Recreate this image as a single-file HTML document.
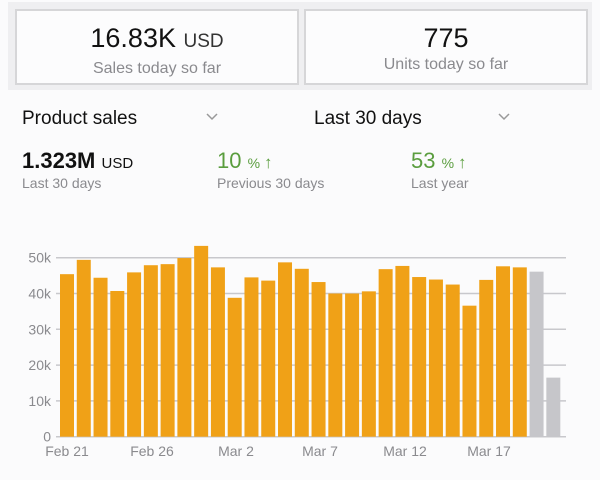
<!DOCTYPE html>
<html><head><style>
body{margin:0;width:600px;height:480px;background:#fbfbfc;font-family:"Liberation Sans",sans-serif;position:relative;overflow:hidden}
.band{position:absolute;left:8px;top:2px;width:584px;height:88px;background:#efeff1}
.box{position:absolute;top:9px;height:72px;background:#fcfcfd;border:2px solid #d6d6d8;text-align:center}
.big{font-size:27px;color:#111;margin-top:12px;line-height:30px}
.big small{font-size:19px;color:#333}
.sub{font-size:16px;color:#8a8a8e;margin-top:3px}
.t{position:absolute;font-size:19px;color:#111}
.v{position:absolute;font-size:22px;font-weight:bold;color:#111}
.g{color:#5a9d3e;font-weight:normal}
.ar{font-size:17px}
.l{position:absolute;font-size:14px;color:#8a8a8e}
</style></head><body>
<div class="band"></div>
<div class="box" style="left:15px;width:280px"><div class="big">16.83K <small>USD</small></div><div class="sub">Sales today so far</div></div>
<div class="box" style="left:304px;width:280px"><div class="big">775</div><div class="sub">Units today so far</div></div>
<div class="t" style="left:22px;top:108px">Product sales</div>
<div class="t" style="left:314px;top:108px">Last 30 days</div>
<div class="v" style="left:22px;top:148px">1.323M <span style="font-size:15px;font-weight:normal">USD</span></div>
<div class="v g" style="left:217px;top:148px">10 <span style="font-size:14px">% <span class="ar">&#8593;</span></span></div>
<div class="v g" style="left:411px;top:148px">53 <span style="font-size:14px">% <span class="ar">&#8593;</span></span></div>
<div class="l" style="left:22px;top:175px">Last 30 days</div>
<div class="l" style="left:217px;top:175px">Previous 30 days</div>
<div class="l" style="left:411px;top:175px">Last year</div>
<svg width="600" height="480" style="position:absolute;left:0;top:0" font-family="Liberation Sans, sans-serif">
<polyline points="207,114 212,119 217,114" fill="none" stroke="#999" stroke-width="1.5"/>
<polyline points="499,114 504,119 509,114" fill="none" stroke="#999" stroke-width="1.5"/>
<g stroke="#c8c8cc" stroke-width="1.5" id="grid"></g>
<g id="bars"></g>
<g fill="#8a8a8e" font-size="14" id="lab"></g>
</svg>
<script>
const v=[45.4,49.4,44.4,40.7,45.9,47.9,48.2,49.9,53.3,47.3,38.8,44.5,43.6,48.7,46.9,43.2,40,40,40.6,46.8,47.7,44.6,43.9,42.5,36.6,43.8,47.6,47.3,46.1,16.5];
const y0=436.7,k=3.58,ns="http://www.w3.org/2000/svg";
const G=document.getElementById('grid'),B=document.getElementById('bars'),L=document.getElementById('lab');
function el(t,a,p,txt){const e=document.createElementNS(ns,t);for(const x in a)e.setAttribute(x,a[x]);if(txt)e.textContent=txt;p.appendChild(e);}
for(let i=0;i<=5;i++){const y=y0-i*10*k;el('line',{x1:56,x2:566,y1:y,y2:y},G);el('text',{x:51,y:y+5,'text-anchor':'end'},L,i?i*10+'k':'0');}
v.forEach((h,i)=>{const x=60+i*16.77;el('rect',{x:x,y:y0-h*k,width:14,height:h*k,fill:i<28?'#f0a117':'#c6c6ca'},B);});
['Feb 21','Feb 26','Mar 2','Mar 7','Mar 12','Mar 17'].forEach((t,j)=>{
 el('text',{x:[67,152,236,320,405,489][j],y:456,'text-anchor':'middle'},L,t);});
</script>
</body></html>
